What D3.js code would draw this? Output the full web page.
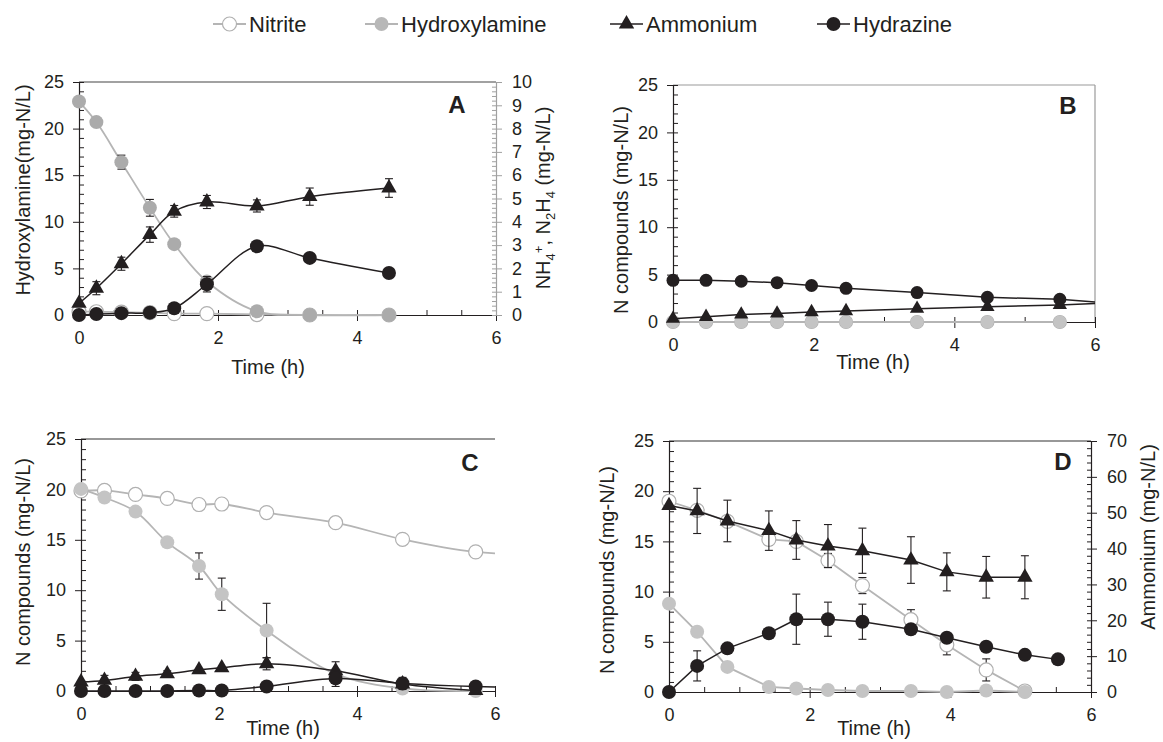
<!DOCTYPE html>
<html>
<head>
<meta charset="utf-8">
<script src="https://cdn.jsdelivr.net/npm/d3@7"></script>
<style>
  body { margin: 0; background: #fff; }
  text { font-family: "Liberation Sans", Arial, sans-serif; }
</style>
</head>
<body>
<script>
const width = 1163;
const height = 742;
const ink = "#231f20";

// ---- data ----
// panel A : hydroxylamine on left axis, ammonium + hydrazine on right axis (0-10)
const timeA = [0, 0.25, 0.61, 1.02, 1.37, 1.84, 2.56, 3.32, 4.46];
const nitriteA = [0.35, 0.35, 0.3, 0.25, 0.15, 0.15, 0.05, 0, 0];
const hydroxylamineA = [22.9, 20.7, 16.4, 11.5, 7.6, 3.6, 0.4, 0, 0];
const hydroxylamineErrA = [0, 0, 0.75, 0.9, 0, 0, 0, 0, 0];
const ammoniumA = [0.5, 1.15, 2.2, 3.45, 4.45, 4.85, 4.68, 5.08, 5.45];
const ammoniumErrA = [0, 0.28, 0.28, 0.33, 0.25, 0.28, 0.26, 0.37, 0.4];
const hydrazineA = [0, 0.04, 0.08, 0.1, 0.29, 1.32, 2.95, 2.45, 1.8];
const hydrazineErrA = [0, 0, 0, 0, 0, 0.33, 0, 0, 0];

// panel B (last time point lies past the axis end)
const timeB = [0, 0.47, 0.97, 1.48, 1.97, 2.46, 3.47, 4.47, 5.5, 6.5];
const nitriteB = [0, 0, 0, 0, 0, 0, 0, 0, 0];
const hydroxylamineB = [0, 0, 0, 0, 0, 0, 0, 0, 0];
const ammoniumB = [0.35, 0.55, 0.8, 0.9, 1.05, 1.15, 1.4, 1.6, 1.8, 2.1];
const hydrazineB = [4.4, 4.4, 4.3, 4.15, 3.85, 3.55, 3.1, 2.6, 2.4, 1.8];

// panel C
const timeC = [0, 0.34, 0.79, 1.25, 1.71, 2.04, 2.69, 3.69, 4.66, 5.72, 6.6];
const nitriteC = [19.85, 19.9, 19.5, 19.1, 18.5, 18.55, 17.7, 16.7, 15.05, 13.8, 13.5];
const nitriteErrC = [0, 0, 0.4, 0.4, 0, 0, 0, 0, 0.4, 0];
const hydroxylamineC = [20.05, 19.2, 17.8, 14.75, 12.4, 9.6, 6.0, 1.7, 0.25, 0];
const hydroxylamineErrC = [0, 0, 0, 0.4, 1.3, 1.6, 2.7, 0, 0, 0];
const ammoniumC = [0.9, 1.05, 1.45, 1.7, 2.1, 2.3, 2.7, 2.0, 0.7, 0.05];
const ammoniumErrC = [0, 0.5, 0.4, 0.3, 0, 0, 0.6, 0.9, 0.2, 0];
const hydrazineC = [0, 0, 0, 0, 0.05, 0.05, 0.45, 1.25, 0.75, 0.45, 0.35];
const hydrazineErrC = [0, 0, 0, 0, 0, 0, 0, 0.8, 0.6, 0, 0];

// panel D : ammonium on right axis (0-70)
const timeD = [0, 0.4, 0.83, 1.42, 1.81, 2.26, 2.75, 3.44, 3.95, 4.51, 5.06, 5.53];
const nitriteD = [19.0, 18.1, 17.0, 15.2, 15.0, 13.1, 10.6, 7.2, 4.7, 2.2, 0.1];
const nitriteErrD = [0, 0, 0, 0.6, 0, 0.7, 0.8, 1.0, 1.0, 1.1, 0];
const hydroxylamineD = [8.8, 6.0, 2.5, 0.5, 0.35, 0.2, 0.1, 0.1, 0, 0.15, 0];
const ammoniumD = [52, 50.5, 47.7, 45.0, 42.4, 40.7, 39.4, 36.8, 33.5, 32.0, 32.0];
const ammoniumErrD = [0, 6.3, 5.8, 5.5, 5.4, 6, 6.3, 6.5, 5.3, 5.8, 6];
const hydrazineD = [0, 2.6, 4.35, 5.85, 7.25, 7.25, 7.0, 6.25, 5.4, 4.5, 3.7, 3.25];
const hydrazineErrD = [0, 1.5, 0, 0, 2.5, 1.7, 1.75, 0, 0, 0, 0, 0];

const legendNames = ["Nitrite", "Hydroxylamine", "Ammonium", "Hydrazine"];
const xTicks = [0, 2, 4, 6];

// ---- styles ----
const styles = {
  Nitrite: {line: "#b5b5b5", marker: "open"},
  Hydroxylamine: {line: "#b5b5b5", marker: "gray"},
  Ammonium: {line: ink, marker: "tri"},
  Hydrazine: {line: ink, marker: "dot"}
};

const svg = d3.select("body").append("svg")
    .attr("width", width)
    .attr("height", height);

function marker(sel, kind, size, grayFill) {
  if (kind === "tri") {
    sel.append("path")
      .attr("d", d3.symbol(d3.symbolTriangle, size * size * 2.1)())
      .attr("fill", ink);
  } else {
    sel.append("circle")
      .attr("r", size)
      .attr("fill", kind === "open" ? "#fff" : kind === "gray" ? grayFill : ink)
      .attr("stroke", kind === "open" ? "#b0b0b0" : "none")
      .attr("stroke-width", 1.2);
  }
}

function styleAxis(g, color) {
  g.select(".domain").attr("stroke", color).attr("stroke-width", 1.2);
  g.selectAll(".tick line").attr("stroke", color);
  g.selectAll("text").attr("font-size", 18).attr("fill", ink)
    .attr("font-family", "'Liberation Sans', Arial, sans-serif");
}

function drawPanel(p) {
  const x = d3.scaleLinear().domain([0, 6]).range([p.left, p.right]);
  const yL = d3.scaleLinear().domain([0, 25]).range([p.bottom, p.top]);
  const yR = d3.scaleLinear().domain([0, p.rightMax || 25]).range([p.bottom, p.top]);
  const g = svg.append("g");
  const clipId = "clip" + p.letter;

  g.append("clipPath").attr("id", clipId)
    .append("rect")
    .attr("x", p.left - 20).attr("y", p.top - 30)
    .attr("width", p.right - p.left + 20).attr("height", p.bottom - p.top + 50);

  // top border
  g.append("line")
    .attr("x1", p.left).attr("x2", p.right)
    .attr("y1", p.top).attr("y2", p.top)
    .attr("stroke", p.frameColor).attr("stroke-width", 1.2);
  if (p.rightBorder) {
    g.append("line")
      .attr("x1", p.right).attr("x2", p.right)
      .attr("y1", p.top).attr("y2", p.bottom)
      .attr("stroke", p.frameColor).attr("stroke-width", 1.2);
  }

  // x axis
  const gx = g.append("g").attr("transform", `translate(0,${p.bottom})`)
    .call(d3.axisBottom(x).tickValues(xTicks).tickSize(6).tickSizeOuter(0).tickPadding(10).tickFormat(d3.format("d")));
  styleAxis(gx, ink);
  const gxm = g.append("g").attr("transform", `translate(0,${p.bottom})`)
    .call(d3.axisTop(x).tickValues(d3.range(0, 6.01, 0.5)).tickSize(5).tickFormat(""));
  gxm.select(".domain").remove();
  styleAxis(gxm, ink);

  // left axis
  const gy = g.append("g").attr("transform", `translate(${p.left},0)`)
    .call(d3.axisLeft(yL).tickValues(d3.range(0, 26, 5)).tickSize(6).tickSizeOuter(0).tickPadding(9));
  styleAxis(gy, ink);
  const gym = g.append("g").attr("transform", `translate(${p.left},0)`)
    .call(d3.axisRight(yL).tickValues(d3.range(0, 26, 1)).tickSize(5).tickFormat(""));
  gym.select(".domain").remove();
  styleAxis(gym, ink);

  // right axis
  if (p.rightMax) {
    const gr = g.append("g").attr("transform", `translate(${p.right},0)`)
      .call(d3.axisRight(yR).tickValues(d3.range(0, p.rightMax + 0.01, p.rightStep)).tickSize(6).tickSizeOuter(0).tickPadding(10));
    styleAxis(gr, p.rightColor);
    const grm = g.append("g").attr("transform", `translate(${p.right},0)`)
      .call(d3.axisLeft(yR).tickValues(d3.range(0, p.rightMax + 0.01, p.rightStep / 5)).tickSize(4).tickFormat(""));
    grm.select(".domain").remove();
    styleAxis(grm, p.rightColor);
  }

  // series
  const plot = g.append("g").attr("clip-path", `url(#${clipId})`);
  p.series.forEach(s => {
    const st = styles[s.name];
    const y = s.axis === "right" ? yR : yL;
    const pts = s.v.map((v, i) => ({t: s.t[i], v, e: s.err ? s.err[i] || 0 : 0}));
    const line = d3.line()
      .x(d => x(d.t)).y(d => y(d.v))
      .curve(p.smooth ? d3.curveCatmullRom.alpha(0.5) : d3.curveLinear);
    plot.append("path")
      .attr("d", line(pts))
      .attr("fill", "none")
      .attr("stroke", st.line)
      .attr("stroke-width", st.line === ink ? 1.5 : 1.8);
    // error bars
    const eb = plot.append("g").attr("stroke", ink).attr("stroke-width", 1.1);
    pts.filter(d => d.e > 0).forEach(d => {
      const cx = x(d.t), y0 = y(d.v - d.e), y1 = y(d.v + d.e);
      eb.append("line").attr("x1", cx).attr("x2", cx).attr("y1", y0).attr("y2", y1);
      eb.append("line").attr("x1", cx - 4).attr("x2", cx + 4).attr("y1", y0).attr("y2", y0);
      eb.append("line").attr("x1", cx - 4).attr("x2", cx + 4).attr("y1", y1).attr("y2", y1);
    });
    plot.append("g").selectAll("g")
      .data(pts)
      .join("g")
        .attr("transform", d => `translate(${x(d.t)},${y(d.v)})`)
        .each(function() { marker(d3.select(this), st.marker, p.markerSize, p.grayFill); });
  });

  // panel letter
  g.append("text")
    .attr("x", p.letterX).attr("y", p.letterY)
    .attr("dy", "0.35em")
    .attr("text-anchor", "middle")
    .attr("font-size", 24).attr("font-weight", "bold").attr("fill", ink)
    .text(p.letter);

  // axis titles
  g.append("text")
    .attr("x", p.xTitleX).attr("y", p.xTitleY)
    .attr("dy", "0.35em")
    .attr("text-anchor", "middle")
    .attr("font-size", 20).attr("fill", ink)
    .text("Time (h)");

  g.append("text")
    .attr("transform", `translate(${p.yTitleX},${p.yTitleY}) rotate(-90)`)
    .attr("dy", "0.35em")
    .attr("text-anchor", "middle")
    .attr("font-size", 20).attr("fill", ink)
    .text(p.yTitle);

  if (p.rightTitle) {
    const rt = g.append("text")
      .attr("transform", `translate(${p.rightTitleX},${p.rightTitleY}) rotate(-90)`)
      .attr("dy", "0.35em")
      .attr("text-anchor", "middle")
      .attr("font-size", 20).attr("fill", ink);
    p.rightTitle.forEach(part => {
      rt.append("tspan")
        .attr("dy", part.dy || 0)
        .attr("font-size", part.small ? 13 : 20)
        .text(part.text);
    });
  }
}

const panels = [
  {
    letter: "A", left: 79, right: 496, top: 82, bottom: 315,
    rightMax: 10, rightStep: 1, rightColor: "#a0a0a0",
    frameColor: "#444", rightBorder: false, smooth: true,
    markerSize: 7, grayFill: "#ababab",
    letterX: 457, letterY: 105, xTitleX: 268, xTitleY: 367,
    yTitle: "Hydroxylamine(mg-N/L)", yTitleX: 23, yTitleY: 190,
    rightTitleX: 550, rightTitleY: 198,
    rightTitle: [
      {text: "NH"}, {text: "4", small: true, dy: 5}, {text: "+", small: true, dy: -12},
      {text: ", N", dy: 7}, {text: "2", small: true, dy: 5}, {text: "H", dy: -5},
      {text: "4", small: true, dy: 5}, {text: " (mg-N/L)", dy: -5}
    ],
    series: [
      {name: "Nitrite", t: timeA, v: nitriteA},
      {name: "Hydroxylamine", t: timeA, v: hydroxylamineA, err: hydroxylamineErrA},
      {name: "Ammonium", t: timeA, v: ammoniumA, err: ammoniumErrA, axis: "right"},
      {name: "Hydrazine", t: timeA, v: hydrazineA, err: hydrazineErrA, axis: "right"}
    ]
  },
  {
    letter: "B", left: 673, right: 1095, top: 85, bottom: 322,
    frameColor: "#9a9a9a", rightBorder: true, smooth: false,
    markerSize: 6.5, grayFill: "#c4c4c4",
    letterX: 1068, letterY: 106, xTitleX: 873, xTitleY: 362,
    yTitle: "N compounds (mg-N/L)", yTitleX: 621, yTitleY: 210,
    series: [
      {name: "Nitrite", t: timeB, v: nitriteB},
      {name: "Hydroxylamine", t: timeB, v: hydroxylamineB},
      {name: "Ammonium", t: timeB, v: ammoniumB},
      {name: "Hydrazine", t: timeB, v: hydrazineB}
    ]
  },
  {
    letter: "C", left: 81, right: 495, top: 439, bottom: 691,
    frameColor: "#333", rightBorder: false, smooth: true,
    markerSize: 7, grayFill: "#c4c4c4",
    letterX: 470, letterY: 463, xTitleX: 283, xTitleY: 728,
    yTitle: "N compounds (mg-N/L)", yTitleX: 23, yTitleY: 562,
    series: [
      {name: "Nitrite", t: timeC, v: nitriteC, err: nitriteErrC},
      {name: "Hydroxylamine", t: timeC, v: hydroxylamineC, err: hydroxylamineErrC},
      {name: "Ammonium", t: timeC, v: ammoniumC, err: ammoniumErrC},
      {name: "Hydrazine", t: timeC, v: hydrazineC, err: hydrazineErrC}
    ]
  },
  {
    letter: "D", left: 669, right: 1091, top: 441, bottom: 692,
    rightMax: 70, rightStep: 10, rightColor: ink,
    frameColor: "#333", rightBorder: false, smooth: false,
    markerSize: 7, grayFill: "#c4c4c4",
    letterX: 1063, letterY: 462, xTitleX: 874, xTitleY: 728,
    yTitle: "N compounds (mg-N/L)", yTitleX: 607, yTitleY: 570,
    rightTitleX: 1155, rightTitleY: 537,
    rightTitle: [{text: "Ammonium (mg-N/L)"}],
    series: [
      {name: "Nitrite", t: timeD, v: nitriteD, err: nitriteErrD},
      {name: "Hydroxylamine", t: timeD, v: hydroxylamineD},
      {name: "Ammonium", t: timeD, v: ammoniumD, err: ammoniumErrD, axis: "right"},
      {name: "Hydrazine", t: timeD, v: hydrazineD, err: hydrazineErrD}
    ]
  }
];

panels.forEach(drawPanel);

// ---- legend ----
const legendX = [213, 365, 610, 817];
const legend = svg.append("g").attr("transform", "translate(0,24)");
legendNames.forEach((name, i) => {
  const st = styles[name];
  const item = legend.append("g").attr("transform", `translate(${legendX[i]},0)`);
  item.append("line").attr("x1", 0).attr("x2", 33).attr("y1", 0).attr("y2", 0)
    .attr("stroke", st.line).attr("stroke-width", st.line === ink ? 1.5 : 1.8);
  marker(item.append("g").attr("transform", "translate(16.5,0)"), st.marker, 7, "#b8b8b8");
  item.append("text").attr("x", 36).attr("dy", "0.35em")
    .attr("font-size", 22).attr("fill", ink)
    .text(name);
});
</script>
</body>
</html>
